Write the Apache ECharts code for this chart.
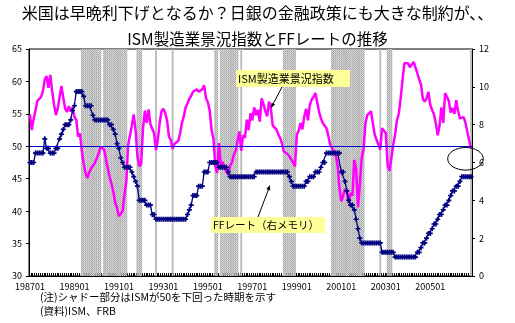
<!DOCTYPE html>
<html><head><meta charset="utf-8">
<script src="https://cdn.jsdelivr.net/npm/echarts@6/dist/echarts.min.js"></script>
<style>html,body{margin:0;padding:0;background:#fff}#c{width:515px;height:323px}</style>
</head><body><div id="c"></div>
<script>
// ---- data ----
const startYear = 1987;
const monthCount = 239; // 1987/01 .. 2006/11
// ISM manufacturing index (left axis)
const ismIndex = [
 54.9,52.5,54.2,55.5,57.0,57.2,57.6,58.5,60.3,60.8,59.0,61.0, // 1987
 58.5,56.5,54.8,55.8,56.0,59.3,57.5,55.8,55.3,56.2,55.4,56.0, // 1988
 54.5,54.1,51.5,52.0,49.3,47.3,45.9,45.1,46.0,46.6,47.0,47.4, // 1989
 47.2,48.8,49.9,50.1,49.5,49.2,46.6,45.3,44.2,43.0,41.3,40.5, // 1990
 39.2,39.3,40.0,42.6,44.6,50.2,50.4,53.2,54.9,52.5,48.5,46.9, // 1991
 47.3,52.7,55.5,53.6,55.7,53.4,53.6,52.0,49.4,51.0,53.6,55.4, // 1992
 55.8,55.1,54.0,51.5,51.0,49.6,50.4,50.7,50.8,52.0,53.6,54.6, // 1993
 56.0,56.6,57.3,57.8,58.4,58.7,58.8,58.4,58.7,58.8,59.4,57.4, // 1994
 56.8,55.5,52.5,51.2,47.0,45.9,50.5,47.1,47.6,46.6,46.1,45.6, // 1995
 47.0,47.5,48.7,49.3,49.6,52.3,49.3,51.7,51.3,54.1,52.5,55.1, // 1996
 54.0,56.0,54.8,55.6,53.8,57.4,56.5,55.4,54.6,56.9,55.8,53.2, // 1997
 53.0,52.6,51.8,51.3,50.4,49.2,49.0,48.8,48.4,48.2,47.5,46.9, // 1998
 51.8,52.4,53.6,52.6,54.6,55.8,54.0,56.4,57.2,57.6,58.2,56.8, // 1999
 55.3,54.3,53.6,53.8,52.8,51.6,50.2,49.7,49.5,48.7,47.0,43.5, // 2000
 41.5,41.8,43.4,43.0,41.2,42.8,42.4,47.9,46.4,40.6,44.2,48.2, // 2001
 49.6,53.5,54.8,54.7,55.4,55.6,51.8,51.0,50.8,49.5,52.8,52.9, // 2002
 52.0,47.0,46.2,46.4,50.2,51.8,54.0,55.0,57.4,60.2,62.8,63.0, // 2003
 62.8,62.2,62.6,63.0,62.9,61.3,60.3,59.5,57.3,56.9,57.4,58.4, // 2004
 56.4,55.6,54.9,53.5,51.7,53.2,56.0,53.6,58.2,57.6,57.0,55.2, // 2005
 55.9,55.0,57.1,55.4,54.3,54.5,54.5,53.6,52.2,50.9,49.7       // 2006
];
// FF rate (right axis, %)
const ffRate = [
 6.0,6.0,6.0,6.5,6.5,6.5,6.5,6.5,7.25,6.75,6.75,6.5,          // 1987
 6.5,6.5,6.75,6.75,7.25,7.5,7.75,8.0,8.0,8.0,8.25,8.75,       // 1988
 9.0,9.75,9.75,9.75,9.75,9.5,9.0,9.0,9.0,9.0,8.5,8.25,        // 1989
 8.25,8.25,8.25,8.25,8.25,8.25,8.25,8.0,8.0,7.75,7.5,7.0,     // 1990
 6.75,6.25,6.0,5.75,5.75,5.75,5.75,5.5,5.25,5.0,4.75,4.0,     // 1991
 4.0,4.0,4.0,3.75,3.75,3.75,3.25,3.25,3.0,3.0,3.0,3.0,        // 1992
 3.0,3.0,3.0,3.0,3.0,3.0,3.0,3.0,3.0,3.0,3.0,3.0,             // 1993
 3.0,3.25,3.5,3.75,4.25,4.25,4.25,4.75,4.75,4.75,5.5,5.5,     // 1994
 5.5,6.0,6.0,6.0,6.0,6.0,5.75,5.75,5.75,5.75,5.75,5.5,        // 1995
 5.25,5.25,5.25,5.25,5.25,5.25,5.25,5.25,5.25,5.25,5.25,5.25, // 1996
 5.25,5.25,5.5,5.5,5.5,5.5,5.5,5.5,5.5,5.5,5.5,5.5,           // 1997
 5.5,5.5,5.5,5.5,5.5,5.5,5.5,5.5,5.25,5.0,4.75,4.75,          // 1998
 4.75,4.75,4.75,4.75,4.75,5.0,5.0,5.25,5.25,5.25,5.5,5.5,     // 1999
 5.5,5.75,6.0,6.0,6.5,6.5,6.5,6.5,6.5,6.5,6.5,6.5,            // 2000
 5.5,5.5,5.0,4.5,4.0,3.75,3.75,3.5,3.0,2.5,2.0,1.75,          // 2001
 1.75,1.75,1.75,1.75,1.75,1.75,1.75,1.75,1.75,1.75,1.25,1.25, // 2002
 1.25,1.25,1.25,1.25,1.25,1.0,1.0,1.0,1.0,1.0,1.0,1.0,        // 2003
 1.0,1.0,1.0,1.0,1.0,1.25,1.25,1.5,1.75,1.75,2.0,2.25,        // 2004
 2.25,2.5,2.75,2.75,3.0,3.25,3.25,3.5,3.75,3.75,4.0,4.25,     // 2005
 4.5,4.5,4.75,4.75,5.0,5.25,5.25,5.25,5.25,5.25,5.25          // 2006
];
const xTickLabels = ['198701','198901','199101','199301','199501','199701','199901','200101','200301','200501'];
const leftAxisTicks = [30,35,40,45,50,55,60,65];
const rightAxisTicks = [0,2,4,6,8,10,12];
const ismThreshold = 50;

// ---- derived ----
const months = [];
for (let i = 0; i < monthCount; i++) {
  const y = startYear + Math.floor(i / 12), m = i % 12 + 1;
  months.push('' + y + (m < 10 ? '0' : '') + m);
}
const shadeData = ismIndex.map(v => v < ismThreshold ? rightAxisTicks[rightAxisTicks.length - 1] : null);

const pc = document.createElement('canvas'); pc.width = 2; pc.height = 2;
const g = pc.getContext('2d');
g.fillStyle = '#d2d2d2'; g.fillRect(0, 0, 2, 2);
g.fillStyle = '#a4a4a4'; g.fillRect(0, 0, 1, 1); g.fillRect(1, 1, 1, 1);

const FONT = '"Noto Sans CJK JP","Noto Sans",sans-serif';
const chart = echarts.init(document.getElementById('c'), null, {renderer: 'canvas'});
chart.setOption({
  animation: false,
  backgroundColor: '#fff',
  textStyle: {fontFamily: FONT},
  title: [
    {text: '米国は早晩利下げとなるか？日銀の金融政策にも大きな制約が、、', left: 'center', top: 5, padding: 0,
     textStyle: {fontSize: 16, fontWeight: 'normal', color: '#000', fontFamily: FONT, lineHeight: 16}},
    {text: 'ISM製造業景況指数とFFレートの推移', left: 'center', top: 31, padding: 0,
     textStyle: {fontSize: 15.5, fontWeight: 'normal', color: '#000', fontFamily: FONT, lineHeight: 16}}
  ],
  grid: {left: 29, right: 43, top: 49, bottom: 47, show: true, borderColor: '#000', borderWidth: 1, containLabel: false},
  xAxis: {
    type: 'category', data: months, boundaryGap: true,
    axisLine: {lineStyle: {color: '#000', width: 1}},
    axisTick: {show: true, inside: true, length: 3, interval: 0, lineStyle: {color: '#000'}},
    axisLabel: {interval: (i, v) => xTickLabels.includes(v), fontSize: 9, color: '#000', margin: 6, fontFamily: FONT},
    splitLine: {show: false}
  },
  yAxis: [
    {type: 'value', position: 'left', min: leftAxisTicks[0], max: leftAxisTicks[leftAxisTicks.length - 1], interval: 5,
     axisLine: {show: true, lineStyle: {color: '#000'}},
     axisTick: {show: true, length: 3, lineStyle: {color: '#000'}},
     axisLabel: {fontSize: 9, color: '#000', margin: 7, fontFamily: FONT},
     splitLine: {show: false}},
    {type: 'value', position: 'right', min: rightAxisTicks[0], max: rightAxisTicks[rightAxisTicks.length - 1], interval: 2,
     axisLine: {show: true, lineStyle: {color: '#000'}},
     axisTick: {show: true, length: 3, lineStyle: {color: '#000'}},
     axisLabel: {fontSize: 9, color: '#000', margin: 7, fontFamily: FONT},
     splitLine: {show: false}}
  ],
  series: [
    {type: 'bar', yAxisIndex: 1, data: shadeData, barCategoryGap: '0%', barGap: '0%', silent: true, z: 1,
     itemStyle: {color: {image: pc, repeat: 'repeat'}}},
    {type: 'line', name: 'ISM', yAxisIndex: 0, data: ismIndex, symbol: 'none', z: 3,
     lineStyle: {color: '#FF00FF', width: 2.5}, itemStyle: {color: '#FF00FF'},
     markLine: {silent: true, symbol: 'none', label: {show: false},
       lineStyle: {color: '#0000CC', width: 1, type: 'solid'}, data: [{yAxis: ismThreshold}]}},
    {type: 'line', name: 'FF', yAxisIndex: 1, data: ffRate, z: 4,
     symbol: 'path://M2,0H4V2H6V4H4V6H2V4H0V2H2Z', symbolSize: 5, showAllSymbol: true,
     lineStyle: {color: '#000080', width: 1.3}, itemStyle: {color: '#000080'}}
  ],
  graphic: [
    {type: 'rect', shape: {x: 236, y: 70, width: 114, height: 17}, style: {fill: '#FFFF99'}, z: 10},
    {type: 'text', x: 238, y: 78.5, style: {text: 'ISM製造業景況指数', fill: '#000', font: '11px ' + FONT, verticalAlign: 'middle', textVerticalAlign: 'middle'}, z: 11},
    {type: 'line', shape: {x1: 282, y1: 87, x2: 272, y2: 106}, style: {stroke: '#000', lineWidth: 1}, z: 11},
    {type: 'polygon', shape: {points: [[271, 108], [275.1, 104.5], [271.5, 102.7]]}, style: {fill: '#000'}, z: 11},
    {type: 'rect', shape: {x: 211, y: 217, width: 114, height: 16}, style: {fill: '#FFFF99'}, z: 10},
    {type: 'text', x: 213, y: 225, style: {text: 'FFレート（右メモリ）', fill: '#000', font: '10.5px ' + FONT, verticalAlign: 'middle', textVerticalAlign: 'middle'}, z: 11},
    {type: 'line', shape: {x1: 258, y1: 217, x2: 269, y2: 188}, style: {stroke: '#000', lineWidth: 1}, z: 11},
    {type: 'polygon', shape: {points: [[270, 185], [270.1, 190.4], [266.4, 189.0]]}, style: {fill: '#000'}, z: 11},
    {type: 'ellipse', shape: {cx: 465.5, cy: 158.8, rx: 17.8, ry: 11.3}, style: {fill: null, stroke: '#000', lineWidth: 1}, z: 12},
    {type: 'text', x: 40, y: 297, style: {text: '(注)シャドー部分はISMが50を下回った時期を示す', fill: '#000', font: '10.5px ' + FONT, verticalAlign: 'middle', textVerticalAlign: 'middle'}},
    {type: 'text', x: 40, y: 311, style: {text: '(資料)ISM、FRB', fill: '#000', font: '10.5px ' + FONT, verticalAlign: 'middle', textVerticalAlign: 'middle'}}
  ]
});
</script></body></html>
